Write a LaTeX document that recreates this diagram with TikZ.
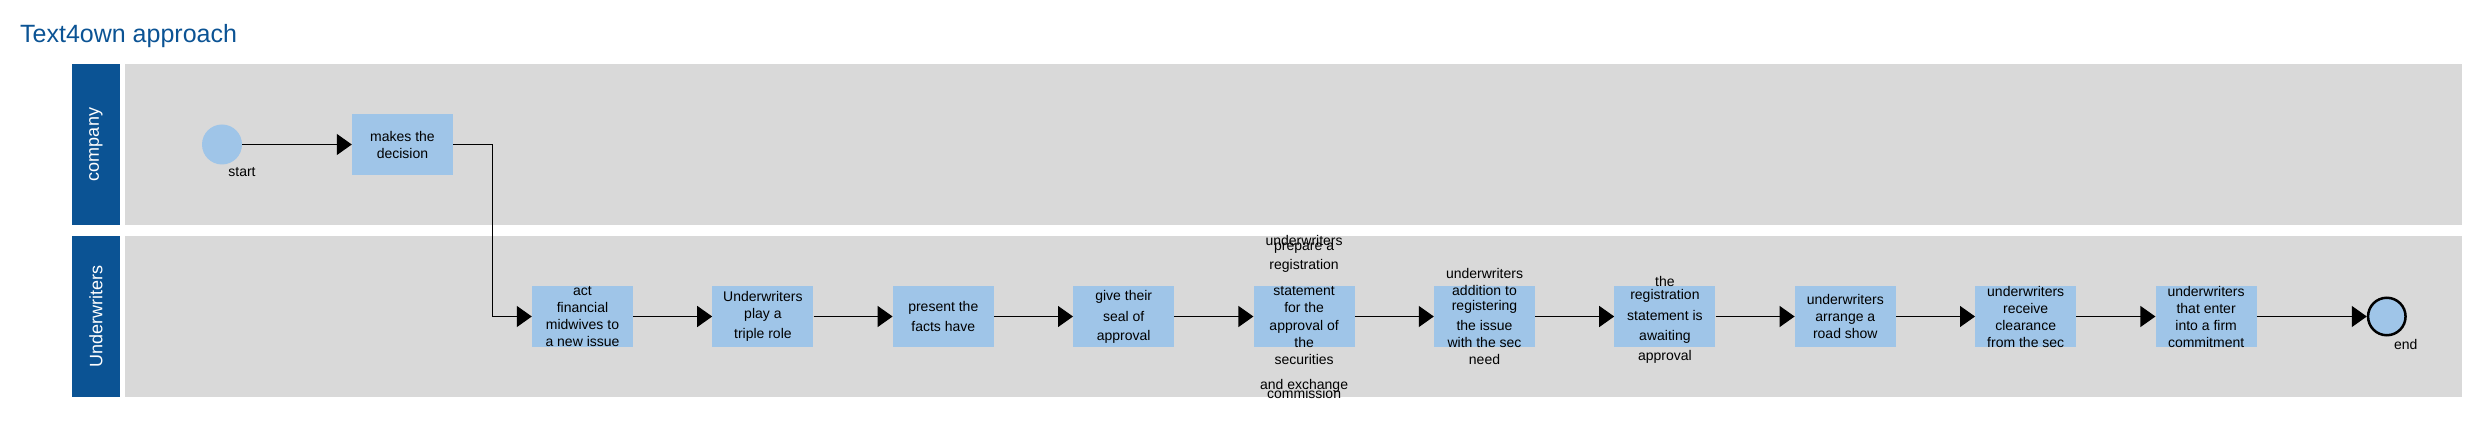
\documentclass[tikz,border=0pt]{standalone}
\usepackage{fontspec}
\setmainfont{Liberation Sans}
\usepackage{xcolor}
\usepackage{tikz}
\usetikzlibrary{arrows.meta,positioning}
\definecolor{headblue}{HTML}{0B5394}
\definecolor{lanegray}{HTML}{D9D9D9}
\definecolor{taskblue}{HTML}{9FC5E8}
\tikzset{
  title/.style    = {inner sep=0pt, text=headblue, font=\fontsize{25}{30}\selectfont},
  lanehead/.style = {shape=rectangle, fill=headblue, text=white, inner sep=0pt,
                     minimum width=161pt, minimum height=48pt, rotate=90,
                     font=\fontsize{18}{22}\selectfont},
  lanebody/.style = {shape=rectangle, fill=lanegray, inner sep=0pt,
                     minimum width=2337pt, minimum height=161pt},
  task/.style     = {shape=rectangle, fill=taskblue, inner sep=0pt,
                     minimum width=101pt, minimum height=61pt},
  tasktext/.style = {align=center, inner sep=0pt},
  startev/.style  = {shape=circle, fill=taskblue, inner sep=0pt, minimum size=40pt},
  endev/.style    = {shape=circle, fill=taskblue, draw=black, line width=2.5pt,
                     inner sep=0pt, minimum size=37.5pt},
  evtext/.style   = {inner sep=0pt},
  flow/.style     = {draw, line width=1.2pt, -{Triangle[length=15pt,width=21pt]}}
}
\begin{document}
\begin{tikzpicture}
  [
    x                 = 1pt,
    y                 = -1pt,
    every node/.style = {font=\fontsize{14}{17}\selectfont}
  ]
  \useasboundingbox (0,0) rectangle (2479,438);
  \node [title, anchor=base west] (title) at (20,43) {Text4own approach};
  % lanes
  \node [lanehead] (hcompany) at (96,144.5) {company};
  \node [lanebody] (lcompany) at (1293.5,144.5) {};
  \node [lanehead] (hunder) at (96,316.5) {Underwriters};
  \node [lanebody] (lunder) at (1293.5,316.5) {};
  % company
  \node [startev] (start) at (222,144.5) {};
  \node [evtext] (startlbl) at (242,172) {start};
  \node [task] (decide) at (402.5,144.5) {};
  \node [tasktext] (decidetxt) at (decide) {makes the\\decision};
  % underwriters
  \node [task] (t1) at (582.5,316.5) {};
  \node [task, right=79pt of t1] (t2) {};
  \node [task, right=79pt of t2] (t3) {};
  \node [task, right=79pt of t3] (t4) {};
  \node [task, right=79pt of t4] (t5) {};
  \node [task, right=79pt of t5] (t6) {};
  \node [task, right=79pt of t6] (t7) {};
  \node [task, right=79pt of t7] (t8) {};
  \node [task, right=79pt of t8] (t9) {};
  \node [task, right=79pt of t9] (t10) {};
  \node [endev, right=110pt of t10] (end) {};
  \node [evtext] (endlbl) at ([xshift=19pt,yshift=-27.5pt]end.center) {end};
  \node [tasktext] (t1txt) at (t1) {act\\financial\\midwives to\\a new issue};
  \node [tasktext] (t2txt) at (t2) {Underwriters\\play a\\[2.3pt]triple role};
  \node [tasktext] (t3txt) at (t3) {present the\\[2.3pt]facts have};
  \node [tasktext] (t4txt) at (t4) {give their\\[4pt]seal of\\[2pt]approval};
  \node [tasktext] (t5txt) at (t5) {underwriters\\[-12pt]prepare a\\[2.3pt]registration\\[9pt]statement\\for the\\[0.7pt]approval of\\the\\securities\\[8.7pt]and exchange\\[-8.7pt]commission};
  \node [tasktext] (t6txt) at (t6) {underwriters\\addition to\\[-2.3pt]registering\\[3pt]the issue\\with the sec\\need};
  \node [tasktext, yshift=-3pt] (t7txt) at (t7) {the\\[-3.4pt]registration\\[4pt]statement is\\[2.4pt]awaiting\\[3pt]approval};
  \node [tasktext] (t8txt) at (t8) {underwriters\\arrange a\\road show};
  \node [tasktext] (t9txt) at (t9) {underwriters\\receive\\clearance\\from the sec};
  \node [tasktext] (t10txt) at (t10) {underwriters\\that enter\\into a firm\\commitment};
  % flows
  \draw [flow] (start) -- (decide);
  \draw [flow] (decide.east) -- ++(39,0) |- (t1.west);
  \draw [flow] (t1) -- (t2);
  \draw [flow] (t2) -- (t3);
  \draw [flow] (t3) -- (t4);
  \draw [flow] (t4) -- (t5);
  \draw [flow] (t5) -- (t6);
  \draw [flow] (t6) -- (t7);
  \draw [flow] (t7) -- (t8);
  \draw [flow] (t8) -- (t9);
  \draw [flow] (t9) -- (t10);
  \draw [flow] (t10) -- (end);
\end{tikzpicture}
\end{document}
